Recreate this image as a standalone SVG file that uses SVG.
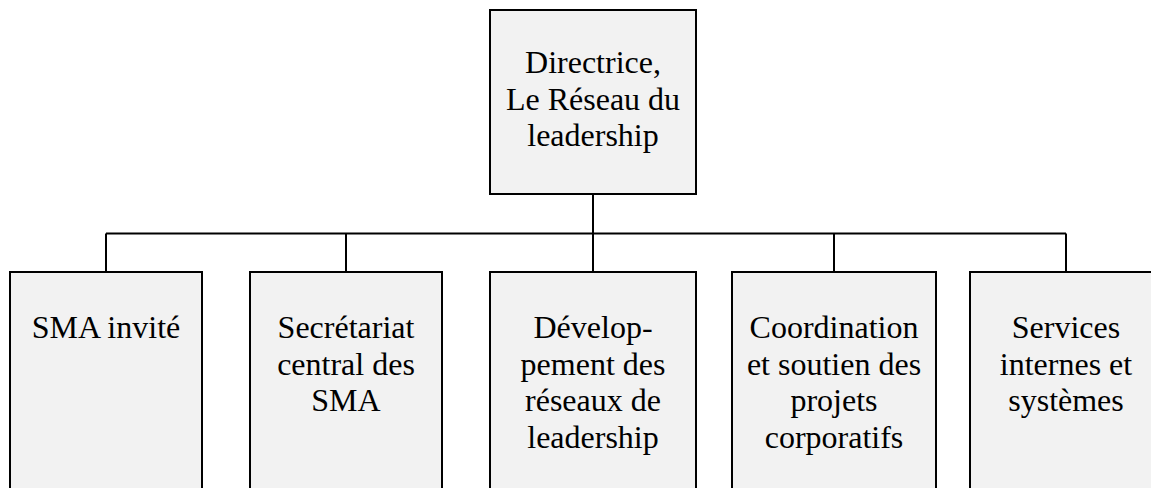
<svg xmlns="http://www.w3.org/2000/svg" width="1151" height="488" viewBox="0 0 1151 488">
  <style>
    .box { fill: #f2f2f2; stroke: #000; stroke-width: 2; }
    .lbl { font-size: 32px; fill: #000; text-anchor: middle; }
    .wire { fill: none; stroke: #000; stroke-width: 2; }
  </style>
  <rect width="1151" height="488" fill="#fff"/>

  <!-- connectors -->
  <g id="connectors">
    <path class="wire" d="M593 194 V233.5"/>
    <path class="wire" d="M106 233.5 H1066"/>
    <path class="wire" d="M106 233.5 V272"/>
    <path class="wire" d="M346 233.5 V272"/>
    <path class="wire" d="M593 233.5 V272"/>
    <path class="wire" d="M834 233.5 V272"/>
    <path class="wire" d="M1066 233.5 V272"/>
  </g>

  <g font-family="'Liberation Serif', Tinos, 'Times New Roman', Times, serif">
    <!-- head of the unit -->
    <g id="directrice">
      <rect class="box" x="490" y="10" width="206" height="184"/>
      <text class="lbl" x="593" y="73">Directrice,</text>
      <text class="lbl" x="593" y="109.5">Le Réseau du</text>
      <text class="lbl" x="593" y="146">leadership</text>
    </g>

    <!-- reporting units -->
    <g id="sma-invite">
      <rect class="box" x="10" y="272" width="192" height="240"/>
      <text class="lbl" x="106" y="338">SMA invité</text>
    </g>

    <g id="secretariat">
      <rect class="box" x="250" y="272" width="192" height="240"/>
      <text class="lbl" x="346" y="338">Secrétariat</text>
      <text class="lbl" x="346" y="374.5">central des</text>
      <text class="lbl" x="346" y="411">SMA</text>
    </g>

    <g id="developpement">
      <rect class="box" x="490" y="272" width="206" height="240"/>
      <text class="lbl" x="593" y="338">Dévelop-</text>
      <text class="lbl" x="593" y="374.5">pement des</text>
      <text class="lbl" x="593" y="411">réseaux de</text>
      <text class="lbl" x="593" y="447.5">leadership</text>
    </g>

    <g id="coordination">
      <rect class="box" x="732" y="272" width="204" height="240"/>
      <text class="lbl" x="834" y="338">Coordination</text>
      <text class="lbl" x="834" y="374.5">et soutien des</text>
      <text class="lbl" x="834" y="411">projets</text>
      <text class="lbl" x="834" y="447.5">corporatifs</text>
    </g>

    <g id="services-internes">
      <rect class="box" x="970" y="272" width="192" height="240"/>
      <text class="lbl" x="1066" y="338">Services</text>
      <text class="lbl" x="1066" y="374.5">internes et</text>
      <text class="lbl" x="1066" y="411">systèmes</text>
    </g>
  </g>
</svg>
